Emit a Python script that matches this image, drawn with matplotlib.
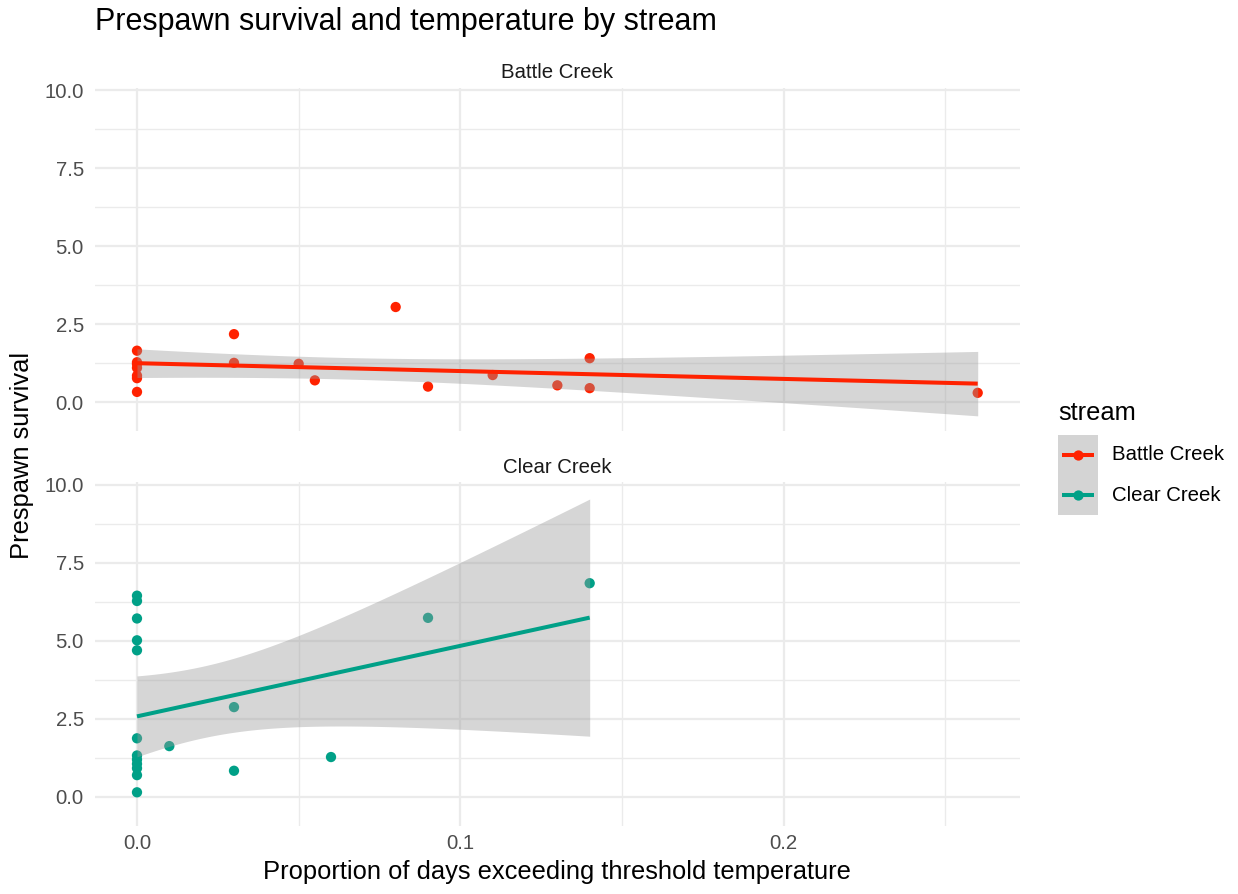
import math
import numpy as np
import matplotlib
matplotlib.use("Agg")
import matplotlib.pyplot as plt
from matplotlib.ticker import MultipleLocator, FormatStrFormatter

plt.rcParams["font.family"] = ["Liberation Sans", "DejaVu Sans"]

streams = ["Battle Creek", "Clear Creek"]
colors = {"Battle Creek": "#FF2200", "Clear Creek": "#00A087"}

battle_x = [0.0, 0.0, 0.0, 0.0, 0.0, 0.0, 0.0,
            0.03, 0.03, 0.05, 0.055, 0.08, 0.09, 0.11, 0.13, 0.14, 0.14, 0.26]
battle_y = [1.65, 1.28, 1.22, 1.1, 0.85, 0.77, 0.33,
            2.18, 1.26, 1.23, 0.70, 3.05, 0.50, 0.87, 0.54, 1.41, 0.45, 0.30]

clear_x = [0.0, 0.0, 0.0, 0.0, 0.0, 0.0, 0.0, 0.0, 0.0, 0.0, 0.0, 0.0,
           0.01, 0.03, 0.03, 0.06, 0.09, 0.14]
clear_y = [6.45, 6.28, 5.72, 5.02, 4.7, 1.88, 1.33, 1.2, 1.06, 0.92, 0.7, 0.15,
           1.63, 2.88, 0.84, 1.28, 5.74, 6.85]

data = {
    "Battle Creek": (np.array(battle_x), np.array(battle_y)),
    "Clear Creek": (np.array(clear_x), np.array(clear_y)),
}


def t_quantile(p, df):
    # bisection on the Student t cdf, integrated numerically
    c = math.gamma((df + 1) / 2) / (math.sqrt(df * math.pi) * math.gamma(df / 2))

    def cdf(t):
        xs = np.linspace(0, t, 4001)
        pdf = c * (1 + xs ** 2 / df) ** (-(df + 1) / 2)
        return 0.5 + np.trapezoid(pdf, xs)

    lo, hi = 0.0, 20.0
    for _ in range(60):
        mid = (lo + hi) / 2
        if cdf(mid) < p:
            lo = mid
        else:
            hi = mid
    return (lo + hi) / 2


def lm_band(x, y, n_grid=80):
    n = len(x)
    slope, intercept = np.polyfit(x, y, 1)
    resid = y - (intercept + slope * x)
    s = np.sqrt(np.sum(resid ** 2) / (n - 2))
    xbar = x.mean()
    sxx = np.sum((x - xbar) ** 2)
    xg = np.linspace(x.min(), x.max(), n_grid)
    fit = intercept + slope * xg
    se = s * np.sqrt(1 / n + (xg - xbar) ** 2 / sxx)
    tq = t_quantile(0.975, n - 2)
    return xg, fit, fit - tq * se, fit + tq * se


W, H = 1238, 894
fig = plt.figure(figsize=(W / 100, H / 100), dpi=100)
ax_top = fig.add_axes([0.0767, 0.518, 0.747, 0.384])
ax_bot = fig.add_axes([0.0767, 0.0764, 0.747, 0.384])

grid_col = "#EBEBEB"
tick_col = "#4D4D4D"
small = 14.7
big = 18.4

for ax, name in zip([ax_top, ax_bot], streams):
    x, y = data[name]
    col = colors[name]
    ax.scatter(x, y, s=55, color=col, edgecolors="none", zorder=3)
    xg, fit, lo, hi = lm_band(x, y)
    ax.fill_between(xg, lo, hi, color="#999999", alpha=0.4, linewidth=0, zorder=4)
    ax.plot(xg, fit, color=col, linewidth=2.9, zorder=5, solid_capstyle="butt")

    ax.set_xlim(-0.013, 0.273)
    ax.set_ylim(-0.92, 10.08)
    ax.xaxis.set_major_locator(MultipleLocator(0.1))
    ax.xaxis.set_minor_locator(MultipleLocator(0.05))
    ax.yaxis.set_major_locator(MultipleLocator(2.5))
    ax.yaxis.set_minor_locator(MultipleLocator(1.25))
    ax.grid(which="major", color=grid_col, linewidth=1.6, zorder=0)
    ax.grid(which="minor", color=grid_col, linewidth=1.0, zorder=0)
    ax.set_axisbelow(True)
    for sp in ax.spines.values():
        sp.set_visible(False)
    ax.tick_params(which="both", length=0, labelsize=small, labelcolor=tick_col, pad=8)
    ax.yaxis.set_major_formatter(FormatStrFormatter("%.1f"))
    ax.xaxis.set_major_formatter(FormatStrFormatter("%.1f"))
    ax.text(0.5, 1.015, name, transform=ax.transAxes, ha="center", va="bottom",
            fontsize=small, color="#1A1A1A")

ax_top.tick_params(axis="x", labelbottom=False)
ax_bot.tick_params(axis="x", pad=6)
ax_bot.set_xlabel("Proportion of days exceeding threshold temperature",
                  fontsize=big, labelpad=5)

fig.text(0.0767, 0.9664, "Prespawn survival and temperature by stream",
         fontsize=22, ha="left", va="baseline")
fig.text(0.0178, 0.491, "Prespawn survival", fontsize=big, rotation=90,
         ha="center", va="center")

# legend: grey key column with line + point glyphs, one row per stream
key_left, key_top, key_w, key_h = 1058, 435, 40, 40
fig.text(key_left / W, 1 - 413 / H, "stream", fontsize=big, ha="left", va="center")
leg_ax = fig.add_axes([key_left / W, 1 - (key_top + key_h * len(streams)) / H,
                       key_w / W, key_h * len(streams) / H])
leg_ax.set_facecolor("#D4D4D4")
leg_ax.set_xlim(0, 1)
leg_ax.set_ylim(0, len(streams))
leg_ax.set_xticks([])
leg_ax.set_yticks([])
for sp in leg_ax.spines.values():
    sp.set_visible(False)
for i, name in enumerate(streams):
    yc = len(streams) - i - 0.5
    leg_ax.plot([0.1, 0.9], [yc, yc], color=colors[name], linewidth=2.9,
                solid_capstyle="butt")
    leg_ax.plot([0.5], [yc], marker="o", markersize=7.4, color=colors[name],
                markeredgewidth=0)
    fig.text(1112 / W, 1 - (key_top + key_h * (i + 0.5)) / H, name,
             fontsize=small, ha="left", va="center")

fig.savefig("out.png", dpi=100)
